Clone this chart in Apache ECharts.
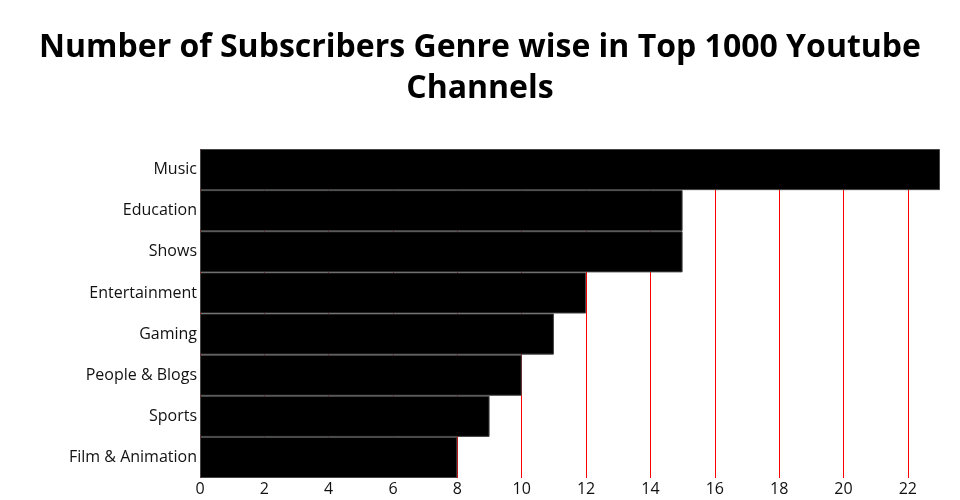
<!DOCTYPE html>
<html>
<head>
<meta charset="utf-8">
<script src="https://cdn.jsdelivr.net/npm/echarts@6/dist/echarts.min.js"></script>
<style>html,body{margin:0;padding:0;background:#fff;}#chart{width:960px;height:500px;}</style>
</head>
<body>
<div id="chart"></div>
<script>
const genres = ["Music", "Education", "Shows", "Entertainment", "Gaming", "People & Blogs", "Sports", "Film & Animation"];
const subscribers = [23, 15, 15, 12, 11, 10, 9, 8];
const xTicks = [0, 2, 4, 6, 8, 10, 12, 14, 16, 18, 20, 22];

const chart = echarts.init(document.getElementById('chart'));
chart.setOption({
  animation: false,
  backgroundColor: '#fff',
  title: {
    text: 'Number of Subscribers Genre wise in Top 1000 Youtube\nChannels',
    left: 'center',
    top: 22,
    textStyle: {
      fontFamily: 'Open Sans',
      fontWeight: 'bold',
      fontSize: 32,
      lineHeight: 41,
      color: '#000'
    }
  },
  grid: { left: 200, right: 20, top: 149, bottom: 22, containLabel: false },
  xAxis: {
    type: 'value',
    min: 0,
    max: 23,
    interval: 2,
    axisLine: { show: false },
    axisTick: { show: false },
    axisLabel: {
      fontFamily: 'Open Sans', fontSize: 16, color: '#111', margin: 3,
      showMaxLabel: false,
      formatter: v => (xTicks.indexOf(v) >= 0 ? String(v) : '')
    },
    splitLine: { show: true, showMaxLine: false, lineStyle: { color: '#ff0000', width: 1 } }
  },
  yAxis: {
    type: 'category',
    data: genres,
    inverse: true,
    axisLine: { show: false },
    axisTick: { show: false },
    axisLabel: { fontFamily: 'Open Sans', fontSize: 16, color: '#111', margin: 3 },
    splitLine: { show: false }
  },
  series: [{
    type: 'bar',
    data: subscribers,
    barCategoryGap: '0%',
    itemStyle: { color: '#000', borderColor: '#444', borderWidth: 1 }
  }]
});
</script>
</body>
</html>
